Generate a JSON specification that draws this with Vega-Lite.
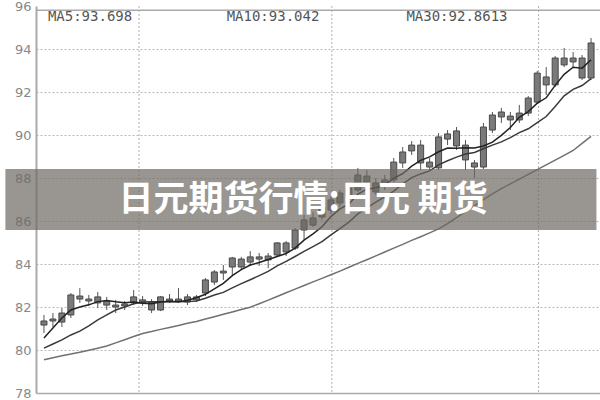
{
  "$schema": "https://vega.github.io/schema/vega-lite/v6.json",
  "width": 564,
  "height": 387,
  "autosize": "none",
  "padding": {"left": 36, "top": 6, "right": 0, "bottom": 7},
  "background": "white",
  "config": {"view": {"stroke": null}},
  "datasets": {
    "k": [
      {"i":0,"o":81.16,"h":81.63,"l":80.79,"c":81.35,"ma5":80.56,"ma10":80.09,"ma30":79.55},
      {"i":1,"o":81.35,"h":81.72,"l":81.07,"c":81.44,"ma5":81.02,"ma10":80.28,"ma30":79.64},
      {"i":2,"o":81.30,"h":81.95,"l":81.07,"c":81.72,"ma5":81.49,"ma10":80.47,"ma30":79.73},
      {"i":3,"o":81.63,"h":82.65,"l":81.49,"c":82.56,"ma5":81.86,"ma10":80.70,"ma30":79.81},
      {"i":4,"o":82.51,"h":82.88,"l":82.19,"c":82.37,"ma5":82.00,"ma10":80.88,"ma30":79.90},
      {"i":5,"o":82.37,"h":82.56,"l":82.05,"c":82.28,"ma5":82.10,"ma10":81.12,"ma30":79.99},
      {"i":6,"o":82.19,"h":82.70,"l":81.95,"c":82.47,"ma5":82.25,"ma10":81.40,"ma30":80.08},
      {"i":7,"o":82.28,"h":82.47,"l":81.86,"c":82.09,"ma5":82.30,"ma10":81.63,"ma30":80.19},
      {"i":8,"o":82.09,"h":82.33,"l":81.72,"c":82.00,"ma5":82.24,"ma10":81.86,"ma30":80.33},
      {"i":9,"o":82.05,"h":82.28,"l":81.86,"c":82.14,"ma5":82.20,"ma10":82.00,"ma30":80.48},
      {"i":10,"o":82.19,"h":82.79,"l":82.09,"c":82.47,"ma5":82.23,"ma10":82.15,"ma30":80.63},
      {"i":11,"o":82.33,"h":82.51,"l":82.05,"c":82.19,"ma5":82.18,"ma10":82.23,"ma30":80.77},
      {"i":12,"o":82.23,"h":82.37,"l":81.72,"c":81.86,"ma5":82.15,"ma10":82.24,"ma30":80.86},
      {"i":13,"o":81.86,"h":82.51,"l":81.81,"c":82.47,"ma5":82.23,"ma10":82.24,"ma30":80.96},
      {"i":14,"o":82.28,"h":82.60,"l":82.19,"c":82.37,"ma5":82.27,"ma10":82.24,"ma30":81.05},
      {"i":15,"o":82.28,"h":82.88,"l":82.19,"c":82.37,"ma5":82.25,"ma10":82.24,"ma30":81.14},
      {"i":16,"o":82.23,"h":82.60,"l":82.09,"c":82.47,"ma5":82.31,"ma10":82.25,"ma30":81.24},
      {"i":17,"o":82.33,"h":82.56,"l":82.23,"c":82.47,"ma5":82.43,"ma10":82.28,"ma30":81.33},
      {"i":18,"o":82.65,"h":83.35,"l":82.51,"c":83.26,"ma5":82.59,"ma10":82.41,"ma30":81.44},
      {"i":19,"o":83.16,"h":83.72,"l":83.02,"c":83.63,"ma5":82.84,"ma10":82.56,"ma30":81.55},
      {"i":20,"o":83.58,"h":83.95,"l":83.26,"c":83.67,"ma5":83.10,"ma10":82.68,"ma30":81.66},
      {"i":21,"o":83.86,"h":84.33,"l":83.49,"c":84.28,"ma5":83.46,"ma10":82.89,"ma30":81.77},
      {"i":22,"o":84.23,"h":84.33,"l":83.72,"c":83.86,"ma5":83.74,"ma10":83.09,"ma30":81.88},
      {"i":23,"o":84.09,"h":84.60,"l":83.91,"c":84.33,"ma5":83.95,"ma10":83.27,"ma30":81.99},
      {"i":24,"o":84.33,"h":84.51,"l":83.91,"c":84.23,"ma5":84.07,"ma10":83.46,"ma30":82.15},
      {"i":25,"o":84.19,"h":84.51,"l":83.81,"c":84.37,"ma5":84.21,"ma10":83.66,"ma30":82.32},
      {"i":26,"o":84.42,"h":85.02,"l":84.33,"c":84.98,"ma5":84.35,"ma10":83.91,"ma30":82.49},
      {"i":27,"o":84.98,"h":85.07,"l":84.37,"c":84.56,"ma5":84.49,"ma10":84.12,"ma30":82.66},
      {"i":28,"o":84.74,"h":85.67,"l":84.65,"c":85.58,"ma5":84.74,"ma10":84.35,"ma30":82.83},
      {"i":29,"o":85.58,"h":86.28,"l":85.12,"c":86.05,"ma5":85.11,"ma10":84.59,"ma30":83.00},
      {"i":30,"o":86.14,"h":86.42,"l":85.72,"c":85.81,"ma5":85.40,"ma10":84.81,"ma30":83.17},
      {"i":31,"o":86.19,"h":86.74,"l":86.05,"c":86.65,"ma5":85.73,"ma10":85.04,"ma30":83.33},
      {"i":32,"o":86.51,"h":87.16,"l":86.33,"c":86.98,"ma5":86.21,"ma10":85.35,"ma30":83.50},
      {"i":33,"o":86.84,"h":87.44,"l":86.65,"c":87.30,"ma5":86.56,"ma10":85.65,"ma30":83.67},
      {"i":34,"o":87.53,"h":87.77,"l":86.98,"c":87.16,"ma5":86.78,"ma10":85.95,"ma30":83.85},
      {"i":35,"o":87.44,"h":88.47,"l":87.35,"c":88.14,"ma5":87.25,"ma10":86.33,"ma30":84.03},
      {"i":36,"o":88.09,"h":88.37,"l":87.63,"c":87.81,"ma5":87.48,"ma10":86.61,"ma30":84.20},
      {"i":37,"o":87.77,"h":88.00,"l":87.21,"c":87.35,"ma5":87.55,"ma10":86.88,"ma30":84.38},
      {"i":38,"o":87.72,"h":88.14,"l":87.44,"c":87.91,"ma5":87.67,"ma10":87.12,"ma30":84.56},
      {"i":39,"o":87.91,"h":88.93,"l":87.81,"c":88.74,"ma5":87.99,"ma10":87.39,"ma30":84.74},
      {"i":40,"o":88.70,"h":89.44,"l":88.47,"c":89.21,"ma5":88.20,"ma10":87.73,"ma30":84.91},
      {"i":41,"o":89.26,"h":89.72,"l":89.07,"c":89.53,"ma5":88.55,"ma10":88.02,"ma30":85.10},
      {"i":42,"o":89.53,"h":89.77,"l":88.37,"c":88.70,"ma5":88.82,"ma10":88.19,"ma30":85.27},
      {"i":43,"o":88.51,"h":88.93,"l":88.37,"c":88.74,"ma5":88.98,"ma10":88.33,"ma30":85.45},
      {"i":44,"o":88.47,"h":90.09,"l":88.37,"c":89.91,"ma5":89.22,"ma10":88.61,"ma30":85.63},
      {"i":45,"o":89.81,"h":90.23,"l":89.53,"c":90.05,"ma5":89.39,"ma10":88.80,"ma30":85.88},
      {"i":46,"o":90.19,"h":90.37,"l":89.30,"c":89.49,"ma5":89.38,"ma10":88.97,"ma30":86.16},
      {"i":47,"o":89.53,"h":89.77,"l":88.37,"c":88.84,"ma5":89.41,"ma10":89.12,"ma30":86.44},
      {"i":48,"o":88.51,"h":88.84,"l":88.00,"c":88.70,"ma5":89.40,"ma10":89.19,"ma30":86.71},
      {"i":49,"o":88.51,"h":90.56,"l":88.42,"c":90.37,"ma5":89.49,"ma10":89.36,"ma30":86.99},
      {"i":50,"o":90.23,"h":91.07,"l":90.09,"c":90.93,"ma5":89.67,"ma10":89.53,"ma30":87.26},
      {"i":51,"o":90.84,"h":91.26,"l":90.56,"c":91.07,"ma5":89.98,"ma10":89.68,"ma30":87.51},
      {"i":52,"o":90.88,"h":91.07,"l":90.23,"c":90.70,"ma5":90.35,"ma10":89.88,"ma30":87.73},
      {"i":53,"o":90.70,"h":91.40,"l":90.56,"c":91.02,"ma5":90.82,"ma10":90.11,"ma30":87.95},
      {"i":54,"o":91.02,"h":91.81,"l":90.88,"c":91.72,"ma5":91.09,"ma10":90.29,"ma30":88.17},
      {"i":55,"o":91.53,"h":92.98,"l":91.44,"c":92.88,"ma5":91.48,"ma10":90.58,"ma30":88.39},
      {"i":56,"o":92.70,"h":93.16,"l":91.86,"c":92.33,"ma5":91.73,"ma10":90.86,"ma30":88.61},
      {"i":57,"o":92.33,"h":93.67,"l":92.23,"c":93.58,"ma5":92.31,"ma10":91.33,"ma30":88.83},
      {"i":58,"o":93.26,"h":94.05,"l":93.16,"c":93.58,"ma5":92.82,"ma10":91.82,"ma30":89.05},
      {"i":59,"o":93.58,"h":93.86,"l":93.12,"c":93.40,"ma5":93.15,"ma10":92.12,"ma30":89.28},
      {"i":60,"o":93.58,"h":93.72,"l":92.56,"c":92.65,"ma5":93.11,"ma10":92.30,"ma30":89.61},
      {"i":61,"o":92.65,"h":94.51,"l":92.56,"c":94.28,"ma5":93.50,"ma10":92.62,"ma30":89.94}
    ],
    "months": [{"i": 10.6}, {"i": 32.1}, {"i": 55.15}],
    "frame": [{"v": 95.8}],
    "labels": [
      {"i": 0.44, "v": 95.5, "t": "MA5:93.698"},
      {"i": 20.37, "v": 95.5, "t": "MA10:93.042"},
      {"i": 40.41, "v": 95.5, "t": "MA30:92.8613"}
    ],
    "banner": [
      {"x1": -4.3, "x2": 61.6, "top": 88.42, "bottom": 85.58, "i": 28.9, "v": 86.98, "t": "日元期货行情:日元 期货"}
    ]
  },
  "layer": [
    {
      "data": {"name": "months"},
      "mark": {"type": "rule", "color": "#b0b0b0", "strokeDash": [2, 2], "strokeWidth": 1},
      "encoding": {
        "x": {"field": "i", "type": "quantitative", "scale": {"domain": [-0.33, 61.44], "nice": false, "zero": false}, "axis": {"title": null, "labels": false, "ticks": false, "grid": false, "domainColor": "#aaaaaa", "domainWidth": 1.5}}
      }
    },
    {
      "data": {"name": "frame"},
      "mark": {"type": "rule", "color": "#aaaaaa", "strokeWidth": 1.5},
      "encoding": {
        "y": {"field": "v", "type": "quantitative", "scale": {"domain": [78, 96], "nice": false, "zero": false},
          "axis": {"title": null, "values": [78, 80, 82, 84, 86, 88, 90, 92, 94, 96], "ticks": false, "labelColor": "#888888", "labelFont": "DejaVu Sans", "labelFontSize": 13, "labelPadding": 5, "domainColor": "#aaaaaa", "domainWidth": 2, "grid": true, "gridColor": "#b8b8b8", "gridDash": [2, 2], "gridOpacity": {"condition": {"test": "datum.value >= 96", "value": 0}, "value": 1}}}
      }
    },
    {
      "data": {"name": "k"},
      "mark": {"type": "rule", "color": "#555555", "strokeWidth": 1},
      "encoding": {
        "x": {"field": "i", "type": "quantitative", "scale": {"domain": [-0.33, 61.44], "nice": false, "zero": false}, "axis": {"title": null, "labels": false, "ticks": false, "grid": false, "domainColor": "#aaaaaa", "domainWidth": 1.5}},
        "y": {"field": "l", "type": "quantitative", "scale": {"domain": [78, 96], "nice": false, "zero": false}, "axis": {"title": null, "values": [78, 80, 82, 84, 86, 88, 90, 92, 94, 96], "ticks": false, "labelColor": "#888888", "labelFont": "DejaVu Sans", "labelFontSize": 13, "labelPadding": 5, "domainColor": "#aaaaaa", "domainWidth": 2, "grid": true, "gridColor": "#b8b8b8", "gridDash": [2, 2], "gridOpacity": {"condition": {"test": "datum.value >= 96", "value": 0}, "value": 1}}},
        "y2": {"field": "h"}
      }
    },
    {
      "data": {"name": "k"},
      "mark": {"type": "bar", "size": 6, "fill": "#7a7a7a", "stroke": "#484848", "strokeWidth": 1},
      "encoding": {
        "x": {"field": "i", "type": "quantitative", "scale": {"domain": [-0.33, 61.44], "nice": false, "zero": false}, "axis": {"title": null, "labels": false, "ticks": false, "grid": false, "domainColor": "#aaaaaa", "domainWidth": 1.5}},
        "y": {"field": "o", "type": "quantitative", "scale": {"domain": [78, 96], "nice": false, "zero": false}, "axis": {"title": null, "values": [78, 80, 82, 84, 86, 88, 90, 92, 94, 96], "ticks": false, "labelColor": "#888888", "labelFont": "DejaVu Sans", "labelFontSize": 13, "labelPadding": 5, "domainColor": "#aaaaaa", "domainWidth": 2, "grid": true, "gridColor": "#b8b8b8", "gridDash": [2, 2], "gridOpacity": {"condition": {"test": "datum.value >= 96", "value": 0}, "value": 1}}},
        "y2": {"field": "c"}
      }
    },
    {
      "data": {"name": "k"},
      "mark": {"type": "line", "color": "#707070", "strokeWidth": 1.5},
      "encoding": {
        "x": {"field": "i", "type": "quantitative", "scale": {"domain": [-0.33, 61.44], "nice": false, "zero": false}, "axis": {"title": null, "labels": false, "ticks": false, "grid": false, "domainColor": "#aaaaaa", "domainWidth": 1.5}},
        "y": {"field": "ma30", "type": "quantitative", "scale": {"domain": [78, 96], "nice": false, "zero": false}, "axis": {"title": null, "values": [78, 80, 82, 84, 86, 88, 90, 92, 94, 96], "ticks": false, "labelColor": "#888888", "labelFont": "DejaVu Sans", "labelFontSize": 13, "labelPadding": 5, "domainColor": "#aaaaaa", "domainWidth": 2, "grid": true, "gridColor": "#b8b8b8", "gridDash": [2, 2], "gridOpacity": {"condition": {"test": "datum.value >= 96", "value": 0}, "value": 1}}}
      }
    },
    {
      "data": {"name": "k"},
      "mark": {"type": "line", "color": "#3a3a3a", "strokeWidth": 1.5},
      "encoding": {
        "x": {"field": "i", "type": "quantitative", "scale": {"domain": [-0.33, 61.44], "nice": false, "zero": false}, "axis": {"title": null, "labels": false, "ticks": false, "grid": false, "domainColor": "#aaaaaa", "domainWidth": 1.5}},
        "y": {"field": "ma10", "type": "quantitative", "scale": {"domain": [78, 96], "nice": false, "zero": false}, "axis": {"title": null, "values": [78, 80, 82, 84, 86, 88, 90, 92, 94, 96], "ticks": false, "labelColor": "#888888", "labelFont": "DejaVu Sans", "labelFontSize": 13, "labelPadding": 5, "domainColor": "#aaaaaa", "domainWidth": 2, "grid": true, "gridColor": "#b8b8b8", "gridDash": [2, 2], "gridOpacity": {"condition": {"test": "datum.value >= 96", "value": 0}, "value": 1}}}
      }
    },
    {
      "data": {"name": "k"},
      "mark": {"type": "line", "color": "#222222", "strokeWidth": 1.5},
      "encoding": {
        "x": {"field": "i", "type": "quantitative", "scale": {"domain": [-0.33, 61.44], "nice": false, "zero": false}, "axis": {"title": null, "labels": false, "ticks": false, "grid": false, "domainColor": "#aaaaaa", "domainWidth": 1.5}},
        "y": {"field": "ma5", "type": "quantitative", "scale": {"domain": [78, 96], "nice": false, "zero": false}, "axis": {"title": null, "values": [78, 80, 82, 84, 86, 88, 90, 92, 94, 96], "ticks": false, "labelColor": "#888888", "labelFont": "DejaVu Sans", "labelFontSize": 13, "labelPadding": 5, "domainColor": "#aaaaaa", "domainWidth": 2, "grid": true, "gridColor": "#b8b8b8", "gridDash": [2, 2], "gridOpacity": {"condition": {"test": "datum.value >= 96", "value": 0}, "value": 1}}}
      }
    },
    {
      "data": {"name": "labels"},
      "mark": {"type": "text", "align": "left", "baseline": "middle", "font": "DejaVu Sans Mono", "fontSize": 14, "color": "#555555"},
      "encoding": {
        "x": {"field": "i", "type": "quantitative", "scale": {"domain": [-0.33, 61.44], "nice": false, "zero": false}, "axis": {"title": null, "labels": false, "ticks": false, "grid": false, "domainColor": "#aaaaaa", "domainWidth": 1.5}},
        "y": {"field": "v", "type": "quantitative", "scale": {"domain": [78, 96], "nice": false, "zero": false}, "axis": {"title": null, "values": [78, 80, 82, 84, 86, 88, 90, 92, 94, 96], "ticks": false, "labelColor": "#888888", "labelFont": "DejaVu Sans", "labelFontSize": 13, "labelPadding": 5, "domainColor": "#aaaaaa", "domainWidth": 2, "grid": true, "gridColor": "#b8b8b8", "gridDash": [2, 2], "gridOpacity": {"condition": {"test": "datum.value >= 96", "value": 0}, "value": 1}}},
        "text": {"field": "t"}
      }
    },
    {
      "data": {"name": "banner"},
      "mark": {"type": "rect", "fill": "#6e6a62", "opacity": 0.7},
      "encoding": {
        "x": {"field": "x1", "type": "quantitative", "scale": {"domain": [-0.33, 61.44], "nice": false, "zero": false}, "axis": {"title": null, "labels": false, "ticks": false, "grid": false, "domainColor": "#aaaaaa", "domainWidth": 1.5}},
        "x2": {"field": "x2"},
        "y": {"field": "top", "type": "quantitative", "scale": {"domain": [78, 96], "nice": false, "zero": false}, "axis": {"title": null, "values": [78, 80, 82, 84, 86, 88, 90, 92, 94, 96], "ticks": false, "labelColor": "#888888", "labelFont": "DejaVu Sans", "labelFontSize": 13, "labelPadding": 5, "domainColor": "#aaaaaa", "domainWidth": 2, "grid": true, "gridColor": "#b8b8b8", "gridDash": [2, 2], "gridOpacity": {"condition": {"test": "datum.value >= 96", "value": 0}, "value": 1}}},
        "y2": {"field": "bottom"}
      }
    },
    {
      "data": {"name": "banner"},
      "mark": {"type": "text", "align": "center", "baseline": "middle", "font": "Noto Sans CJK SC", "fontWeight": "bold", "fontSize": 35, "color": "white"},
      "encoding": {
        "x": {"field": "i", "type": "quantitative", "scale": {"domain": [-0.33, 61.44], "nice": false, "zero": false}, "axis": {"title": null, "labels": false, "ticks": false, "grid": false, "domainColor": "#aaaaaa", "domainWidth": 1.5}},
        "y": {"field": "v", "type": "quantitative", "scale": {"domain": [78, 96], "nice": false, "zero": false}, "axis": {"title": null, "values": [78, 80, 82, 84, 86, 88, 90, 92, 94, 96], "ticks": false, "labelColor": "#888888", "labelFont": "DejaVu Sans", "labelFontSize": 13, "labelPadding": 5, "domainColor": "#aaaaaa", "domainWidth": 2, "grid": true, "gridColor": "#b8b8b8", "gridDash": [2, 2], "gridOpacity": {"condition": {"test": "datum.value >= 96", "value": 0}, "value": 1}}},
        "text": {"field": "t"}
      }
    }
  ]
}
